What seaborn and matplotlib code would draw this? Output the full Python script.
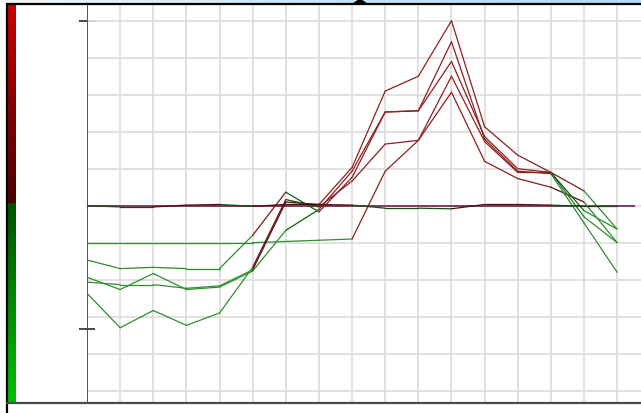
import numpy as np
import pandas as pd
import matplotlib
matplotlib.use("Agg")
import matplotlib.pyplot as plt
from matplotlib.colors import LinearSegmentedColormap, Normalize
from matplotlib.lines import Line2D
from matplotlib.patches import Polygon
import seaborn as sns

# ---- data -------------------------------------------------------------
steps = list(range(17))

series_a = [-0.30, -0.30, -0.30, -0.30, -0.30, -0.30, -0.29, -0.28, -0.27,
            0.28, 0.53, 0.92, 0.36, 0.22, 0.15, 0.03, -0.30]
series_b = [-0.44, -0.51, -0.50, -0.51, -0.51, -0.24, 0.11, -0.05, 0.23,
            0.76, 0.77, 1.17, 0.56, 0.30, 0.27, -0.09, -0.30]
series_c = [-0.58, -0.68, -0.55, -0.68, -0.66, -0.53, -0.20, -0.03, 0.28,
            0.76, 0.77, 1.33, 0.54, 0.28, 0.26, -0.14, -0.54]
series_d = [-0.62, -0.64, -0.64, -0.67, -0.65, -0.52, 0.03, 0.01, 0.31,
            0.93, 1.05, 1.50, 0.64, 0.41, 0.27, 0.12, -0.19]
series_e = [-0.71, -0.99, -0.85, -0.97, -0.87, -0.50, 0.05, -0.01, 0.20,
            0.50, 0.53, 1.05, 0.52, 0.27, 0.27, -0.04, -0.19]
series_z = [0.0, -0.01, -0.01, 0.005, 0.01, -0.005, 0.01, 0.01, 0.005,
            -0.02, -0.02, -0.025, 0.01, 0.01, 0.005, -0.005, -0.005]

marked_levels = [1.5, -1.0]
grid_levels = [-1.5, -1.2, -0.9, -0.6, -0.3, 0.0, 0.3, 0.6, 0.9, 1.2, 1.5]

series = {"a": series_a, "b": series_b, "c": series_c,
          "d": series_d, "e": series_e, "z": series_z}

# ---- colours ----------------------------------------------------------
RED = "#8c1f1f"
GREEN = "#2f8f2f"
AXIS = "#7a2d58"
vmin, vmax = -1.6, 1.6
norm = Normalize(vmin, vmax)
seg_cmap = LinearSegmentedColormap.from_list(
    "sign_segments",
    [(0.0, GREEN), (0.45, GREEN), (0.499, "#0c4c0c"),
     (0.501, "#4c0c0c"), (0.55, RED), (1.0, RED)])
bar_cmap = LinearSegmentedColormap.from_list(
    "sign_bar",
    [(0.0, "#00c000"), (0.499, "#005000"), (0.501, "#4a0000"), (1.0, "#c80000")])

# each segment takes the colour of the value it runs into
rows, palette = [], {}
for name, vals in series.items():
    for i in range(len(vals) - 1):
        seg = f"{name}{i:02d}"
        palette[seg] = seg_cmap(norm(vals[i + 1]))
        rows.append((seg, steps[i], vals[i]))
        rows.append((seg, steps[i + 1], vals[i + 1]))
df = pd.DataFrame(rows, columns=["seg", "step", "value"])

# ---- figure -----------------------------------------------------------
sns.set_style("white")
W, H = 641, 414
fig = plt.figure(figsize=(W / 100, H / 100), dpi=100)
fig.patch.set_facecolor("white")


def fx(px):
    return px / W


def fy(py):
    return 1 - py / H


ax = fig.add_axes([fx(87), fy(403), fx(641) - fx(87), fy(5) - fy(403)])
ax.set_xlim(0, 16.72)
ax.set_ylim(-1.592, 1.636)

for s in ax.spines.values():
    s.set_visible(False)

ax.set_xticks([])
ax.set_xticks(steps, minor=True)
ax.set_yticks(marked_levels)
ax.set_yticks(grid_levels, minor=True)
ax.yaxis.remove_overlapping_locs = False
ax.grid(which="minor", color="#dedede", linewidth=1.3)
ax.grid(which="major", visible=False)
ax.set_axisbelow(True)
ax.tick_params(which="minor", length=0)
ax.tick_params(axis="y", which="major", direction="inout", length=11,
               width=1.3, color="#3a3a3a", labelleft=False, left=True)
ax.set_xlabel("")
ax.set_ylabel("")

# axis lines
ax.axvline(0, color=AXIS, linewidth=1.3, zorder=2)
ax.hlines(0, 0, 16.55, color=AXIS, linewidth=1.3, zorder=2)

sns.lineplot(data=df, x="step", y="value", hue="seg", palette=palette,
             estimator=None, sort=False, legend=False, linewidth=0.9,
             ax=ax, zorder=3)
ax.set_xlabel("")
ax.set_ylabel("")

# colour strip on the left, same vertical scale as the plot
cax = fig.add_axes([fx(8), fy(403), fx(15.5) - fx(8), fy(5) - fy(403)])
cax.set_ylim(ax.get_ylim())
grad = np.linspace(ax.get_ylim()[0], ax.get_ylim()[1], 400).reshape(-1, 1)
cax.imshow(grad, cmap=bar_cmap, norm=Normalize(-1.592, 1.636), aspect="auto",
           origin="lower", extent=[0, 1, ax.get_ylim()[0], ax.get_ylim()[1]])
cax.set_axis_off()

# title-bar strip along the top edge
tax = fig.add_axes([0, fy(4.6), 1, 4.6 / H])
top_cmap = LinearSegmentedColormap.from_list(
    "topbar", [(0.0, "#f3f6f9"), (0.55, "#c6e2f7"), (1.0, "#b6d8f2")])
tax.imshow(np.linspace(0, 1, 300).reshape(1, -1), cmap=top_cmap,
           aspect="auto", extent=[0, 1, 0, 1])
tax.set_axis_off()
fig.add_artist(Polygon([(fx(353), fy(5)), (fx(360), fy(0.3)), (fx(367), fy(5))],
                       closed=True, facecolor="black", edgecolor="black",
                       transform=fig.transFigure, zorder=10))

# window frame
fig.add_artist(Line2D([fx(6.5), 1], [fy(5), fy(5)], color="black",
                      linewidth=1.6, transform=fig.transFigure))
fig.add_artist(Line2D([fx(7), fx(7)], [fy(5), 0], color="black",
                      linewidth=1.6, transform=fig.transFigure))
fig.add_artist(Line2D([fx(7), 1], [fy(403.5), fy(403.5)], color="#4a4a4a",
                      linewidth=1.6, transform=fig.transFigure))

fig.savefig("out.png", dpi=100)
